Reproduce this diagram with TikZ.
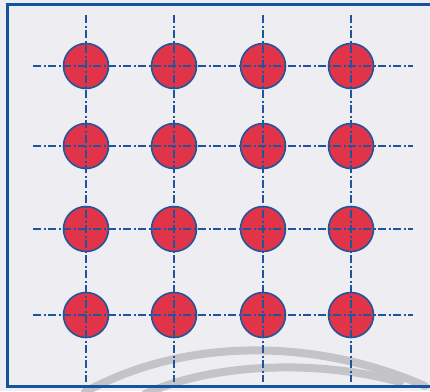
\documentclass[tikz,border=0pt]{standalone}
\begin{document}
\begin{tikzpicture}[x=1pt,y=-1pt,
  frameline/.style={draw=frameblue, line width=2.6pt},
  dot/.style={circle, minimum size=45pt, inner sep=0pt, fill=dotred, draw=lineblue, line width=1.6pt},
  axis/.style={draw=lineblue, line width=1.4pt, dash pattern=on 8pt off 2.5pt on 2pt off 2.5pt},
  arc/.style={draw=arcgray, line width=8pt, line cap=round}]
\definecolor{dotred}{RGB}{226,52,72}
\definecolor{lineblue}{RGB}{30,85,155}
\definecolor{frameblue}{RGB}{22,82,160}
\definecolor{arcgray}{RGB}{196,196,200}
\definecolor{paper}{RGB}{238,238,242}
\useasboundingbox (0,0) rectangle (430,391);
\fill[paper] (0,0) rectangle (430,391);
% scan shadow arcs
\draw[arc] (85,392) .. controls (190,335) and (320,340) .. (425,386);
\draw[arc] (145,394) .. controls (215,362) and (320,360) .. (400,382);
% frame
\draw[frameline] (433,4.5) -- (7.5,4.5) -- (7.5,386.5) -- (433,386.5);
% dots
\foreach \c/\x in {1/86,2/174,3/263,4/351}{
  \foreach \r/\y in {1/66,2/146,3/229,4/315}{
    \node[dot] (d\r\c) at (\x,\y) {};
  }
}
% axis line end points
\foreach \c/\x in {1/86,2/174,3/263,4/351}{
  \coordinate (t\c) at (\x,15);
  \coordinate (b\c) at (\x,382);
}
\foreach \r/\y in {1/66,2/146,3/229,4/315}{
  \coordinate (l\r) at (33,\y);
  \coordinate (e\r) at (413,\y);
}
\foreach \i in {1,2,3,4}{
  \draw[axis] (t\i) -- (b\i);
  \draw[axis] (l\i) -- (e\i);
}
\end{tikzpicture}
\end{document}
